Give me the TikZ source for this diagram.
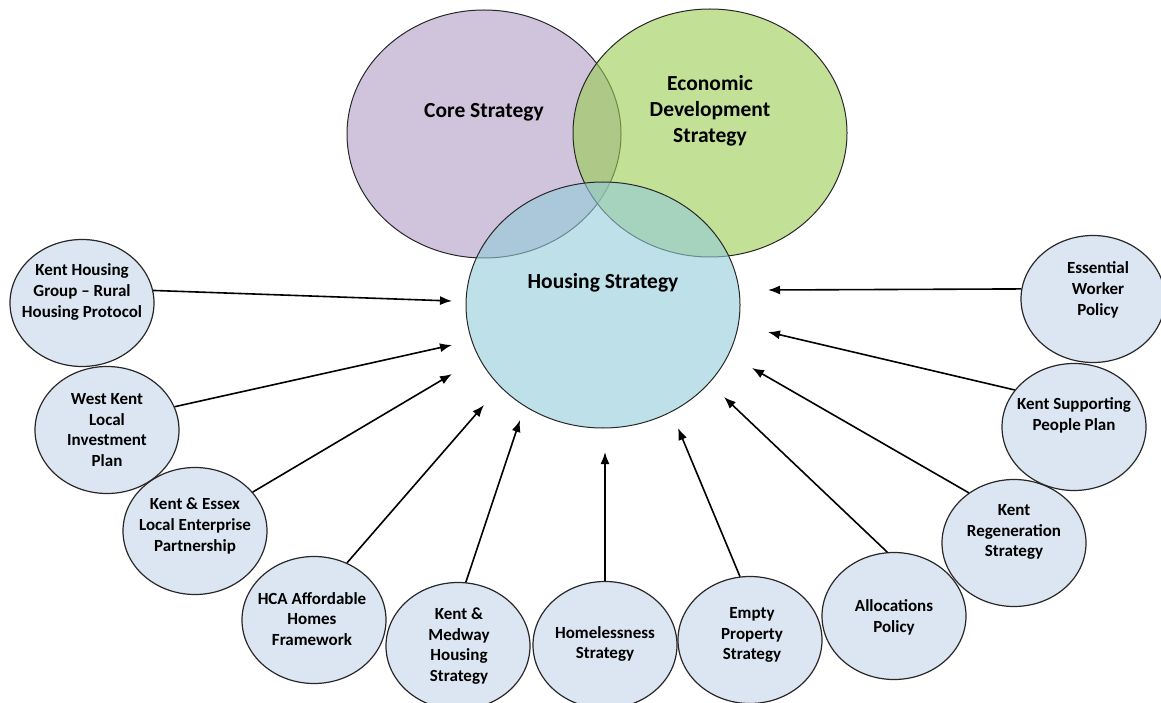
\documentclass[tikz,border=0pt]{standalone}
\usepackage{fontspec}
\setmainfont{Carlito}
\usetikzlibrary{shapes.geometric, arrows.meta}

\definecolor{corefill}{RGB}{177,157,197}
\definecolor{econfill}{RGB}{153,203,80}
\definecolor{housefill}{RGB}{147,203,217}
\definecolor{feedfill}{RGB}{220,230,242}
\definecolor{rimgrey}{RGB}{40,40,40}

\tikzset{
    bigset/.style={ellipse, draw=rimgrey, line width=1pt, fill opacity=0.6, text opacity=1, inner sep=0pt},
    bigtext/.style={align=center, font=\bfseries\fontsize{21.5}{26}\selectfont},
    feed/.style={ellipse, draw=rimgrey, line width=1.2pt, fill=feedfill, minimum width=144pt, minimum height=127pt, inner sep=0pt},
    feedtext/.style={align=center, font=\bfseries\fontsize{17}{20.8}\selectfont},
    into/.style={-{Latex[length=12pt,width=9pt]}, line width=1.6pt, black}
}

\begin{document}
\begin{tikzpicture}[x=1pt,y=-1pt]
        \useasboundingbox (0,0) rectangle (1161,703);

        % the three strategies
        \node at (484,134) [bigset, fill=corefill, minimum width=274pt, minimum height=248pt] (core) {};
        \node at (710,133) [bigset, fill=econfill, minimum width=274pt, minimum height=248pt] (econ) {};
        \node at (603,305) [bigset, fill=housefill, minimum width=274pt, minimum height=246pt] (housing) {};
        \node at (484,112) [bigtext] (core_t) {Core Strategy};
        \node at (710,111) [bigtext] (econ_t) {Economic\\Development\\Strategy};
        \node at (603,283) [bigtext] (housing_t) {Housing Strategy};

        % feeding plans and policies
        \node at (82,303)   [feed] (khg) {};
        \node at (107,430)  [feed] (wk) {};
        \node at (195,531)  [feed] (kelep) {};
        \node at (314,620)  [feed] (hca) {};
        \node at (458,646)  [feed] (kmhs) {};
        \node at (605,645)  [feed] (homeless) {};
        \node at (750,640)  [feed] (empty) {};
        \node at (894,616)  [feed] (alloc) {};
        \node at (1014,543) [feed] (regen) {};
        \node at (1074,427) [feed] (supp) {};
        \node at (1093,299) [feed] (ess) {};

        \node at (82,292)   [feedtext] (khg_t) {Kent Housing\\Group \textendash{} Rural\\Housing Protocol};
        \node at (107,430)  [feedtext] (wk_t) {West Kent\\Local\\Investment\\Plan};
        \node at (195,526)  [feedtext] (kelep_t) {Kent \& Essex\\Local Enterprise\\Partnership};
        \node at (312,619)  [feedtext] (hca_t) {HCA Affordable\\Homes\\Framework};
        \node at (459,646)  [feedtext] (kmhs_t) {Kent \&\\Medway\\Housing\\Strategy};
        \node at (605,644)  [feedtext] (homeless_t) {Homelessness\\Strategy};
        \node at (752,635)  [feedtext] (empty_t) {Empty\\Property\\Strategy};
        \node at (894,617)  [feedtext] (alloc_t) {Allocations\\Policy};
        \node at (1014,532) [feedtext] (regen_t) {Kent\\Regeneration\\Strategy};
        \node at (1074,415) [feedtext] (supp_t) {Kent Supporting\\People Plan};
        \node at (1098,290) [feedtext] (ess_t) {Essential\\Worker\\Policy};

        % arrow tips, short of the housing circle
        \coordinate (khg_tip) at (452,301);
        \coordinate (wk_tip) at (452,345);
        \coordinate (kelep_tip) at (452,374);
        \coordinate (hca_tip) at (484,405);
        \coordinate (kmhs_tip) at (520,420);
        \coordinate (homeless_tip) at (605,452);
        \coordinate (empty_tip) at (678,428);
        \coordinate (alloc_tip) at (724,397);
        \coordinate (regen_tip) at (752,368);
        \coordinate (supp_tip) at (768,332);
        \coordinate (ess_tip) at (768,290);

        \draw   (khg.10)        edge[into]  (khg_tip)
                (wk.19)         edge[into]  (wk_tip)
                (kelep.34)      edge[into]  (kelep_tip)
                (hca.60)        edge[into]  (hca_tip)
                (kmhs.83)       edge[into]  (kmhs_tip)
                (homeless.90)   edge[into]  (homeless_tip)
                (empty.99)      edge[into]  (empty_tip)
                (alloc.96)      edge[into]  (alloc_tip)
                (regen.132)     edge[into]  (regen_tip)
                (supp.148)      edge[into]  (supp_tip)
                (ess.172)       edge[into]  (ess_tip)
            ;

    \end{tikzpicture}
\end{document}
